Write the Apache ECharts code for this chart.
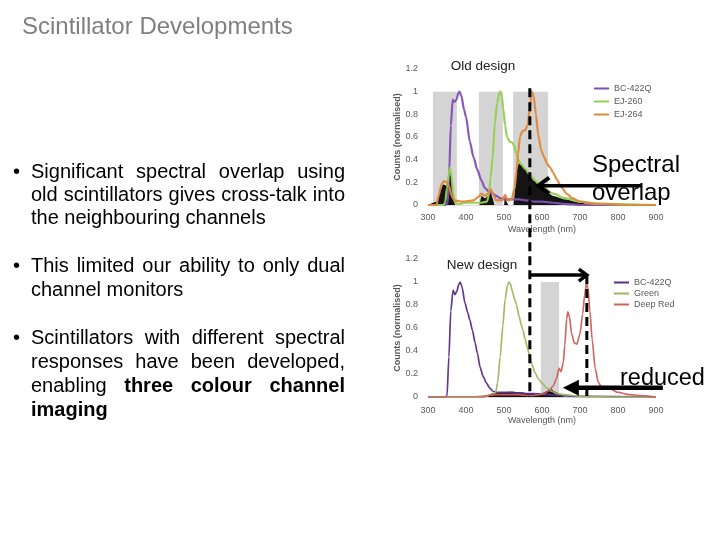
<!DOCTYPE html>
<html><head><meta charset="utf-8">
<script src="https://cdn.jsdelivr.net/npm/echarts@6/dist/echarts.min.js"></script>
<style>html,body{margin:0;padding:0;background:#fff}#c{width:720px;height:540px}</style>
</head><body><div id="c"></div>
<script>
// ---------------- DATA ----------------
const xTickMin = 300, xTickMax = 900, xTickStep = 100;
const yTickMin = 0, yTickMax = 1.2, yTickStep = 0.2;

// Old design (top chart)
const bcOldNm     = [300,345,352,356,360,365,370,375,380,383,388,395,400,410,420,430,440,450,460,470,480,490,500,520,540,560,580,600,630,660,700,900];
const bcOldCounts = [0,0,0.02,0.3,0.7,0.93,0.91,0.93,0.99,1.0,0.96,0.84,0.78,0.56,0.42,0.31,0.22,0.15,0.12,0.1,0.08,0.06,0.05,0.05,0.05,0.04,0.03,0.03,0.02,0.01,0,0];

const ej260Nm     = [300,340,345,350,355,358,362,366,371,380,400,440,455,460,465,470,476,482,487,490,494,498,503,508,515,522,527,532,537,545,555,568,580,600,630,660,700,750,900];
const ej260Counts = [0,0,0.02,0.15,0.28,0.33,0.25,0.1,0.02,0.01,0.02,0.02,0.03,0.08,0.25,0.42,0.72,0.9,0.98,1.0,0.97,0.85,0.7,0.6,0.56,0.55,0.52,0.46,0.4,0.36,0.32,0.27,0.22,0.16,0.1,0.06,0.03,0.01,0];

const ej264Nm     = [300,322,328,335,342,350,356,362,370,390,420,432,441,450,458,465,472,480,495,503,510,520,528,533,537,542,548,555,562,568,573,578,584,590,598,606,614,622,630,640,650,665,680,700,730,770,820,900];
const ej264Counts = [0,0,0.08,0.18,0.21,0.2,0.16,0.08,0.04,0.03,0.04,0.07,0.1,0.08,0.1,0.14,0.09,0.04,0.04,0.09,0.04,0.05,0.15,0.3,0.45,0.6,0.65,0.66,0.7,0.85,1.0,0.96,0.8,0.62,0.48,0.42,0.36,0.33,0.28,0.22,0.16,0.1,0.06,0.03,0.015,0.01,0,0];

const overlapOldNm     = [300,325,332,340,348,354,358,362,366,372,435,441,450,458,465,470,475,500,503,508,512,525,530,535,540,550,560,575,590,610,630,660,700,740,900];
const overlapOldCounts = [0,0.03,0.12,0.18,0.17,0.2,0.3,0.22,0.08,0,0,0.08,0.06,0.08,0.12,0.06,0,0,0.08,0.02,0,0,0.15,0.33,0.37,0.34,0.3,0.24,0.18,0.12,0.08,0.05,0.02,0,0];

const bandsOld = [[313,376],[434,497],[524,616]];

// New design (bottom chart)
const bcNewNm     = [300,345,350,355,360,366,371,376,381,385,390,397,405,410,417,424,430,437,445,454,462,471,480,500,520,550,580,620,660,700,900];
const bcNewCounts = [0,0,0.01,0.35,0.75,0.93,0.89,0.92,0.98,1.0,0.95,0.82,0.73,0.67,0.58,0.47,0.38,0.26,0.18,0.12,0.08,0.05,0.04,0.04,0.04,0.03,0.03,0.02,0.01,0.005,0];

const greenNm     = [300,420,450,470,478,483,490,497,503,509,513,517,522,528,533,540,546,550,556,562,568,575,582,590,600,612,625,640,660,690,730,780,900];
const greenCounts = [0,0,0.01,0.02,0.04,0.12,0.35,0.62,0.85,0.97,1.0,0.98,0.92,0.85,0.8,0.7,0.62,0.58,0.5,0.42,0.35,0.27,0.21,0.16,0.12,0.08,0.05,0.03,0.02,0.01,0.005,0,0];

const redNm     = [300,440,470,500,540,570,590,605,620,630,638,645,650,656,660,665,668,672,678,685,692,700,707,712,717,721,726,732,740,748,756,765,772,780,800,830,870,900];
const redCounts = [0,0,0.02,0.02,0.02,0.01,0.02,0.03,0.06,0.1,0.16,0.25,0.22,0.3,0.45,0.68,0.74,0.7,0.55,0.47,0.46,0.55,0.72,0.88,0.99,0.95,0.75,0.5,0.25,0.13,0.09,0.08,0.09,0.07,0.04,0.02,0.01,0];

const overlapNewNm     = [300,455,470,490,520,550,570,600,615,625,635,650,660,900];
const overlapNewCounts = [0,0,0.035,0.04,0.045,0.04,0.025,0.035,0.055,0.065,0.045,0.015,0,0];

const bandsNew = [[597,645]];

// Annotation positions (in data units)
const dashNm1 = 568, dashNm2 = 718;

// ---------------- CHART ----------------
const FONT = '"Liberation Sans", Arial, sans-serif';
const pairs = (xs, ys) => xs.map((x, i) => [x, ys[i]]);
const chart = echarts.init(document.getElementById('c'), null, {renderer: 'canvas'});

function curve(name, g, xs, ys, color, width) {
  return {type: 'line', name, xAxisIndex: g, yAxisIndex: g, data: pairs(xs, ys), symbol: 'none',
    smooth: 0.25, smoothMonotone: 'x', lineStyle: {color, width, opacity: 0.95}, itemStyle: {color}, z: 4, silent: true};
}
function overlap(g, xs, ys, bands) {
  return {type: 'line', xAxisIndex: g, yAxisIndex: g, data: pairs(xs, ys), symbol: 'none',
    smooth: 0.2, smoothMonotone: 'x', lineStyle: {width: 0}, areaStyle: {color: '#141414', opacity: 1}, z: 3, silent: true,
    markArea: {silent: true, itemStyle: {color: '#d4d4d4'},
      data: bands.map(b => [{xAxis: b[0], yAxis: 0}, {xAxis: b[1], yAxis: 1}])}};
}
function xAx(g, gap, margin) {
  return {type: 'value', gridIndex: g, min: xTickMin, max: xTickMax, interval: xTickStep,
    name: 'Wavelength (nm)', nameLocation: 'middle', nameGap: gap,
    nameTextStyle: {fontSize: 9, color: '#595959', fontFamily: FONT},
    axisLine: {lineStyle: {color: '#d9d9d9', width: 1}}, axisTick: {show: false}, splitLine: {show: false},
    axisLabel: {fontSize: 9, color: '#595959', margin, fontFamily: FONT}};
}
function yAx(g) {
  return {type: 'value', gridIndex: g, min: yTickMin, max: yTickMax, interval: yTickStep,
    name: 'Counts (normalised)', nameLocation: 'middle', nameGap: 25,
    nameTextStyle: {fontSize: 9, color: '#595959', fontWeight: 'bold', fontFamily: FONT},
    axisLine: {show: false}, axisTick: {show: false}, splitLine: {show: false},
    axisLabel: {fontSize: 9, color: '#595959', margin: 10, fontFamily: FONT}};
}

const option = {
  animation: false,
  backgroundColor: '#fff',
  grid: [
    {left: 428, top: 69, width: 228, height: 136},
    {left: 428, top: 259, width: 228, height: 138}
  ],
  xAxis: [xAx(0, 20, 8), xAx(1, 18, 9)],
  yAxis: [yAx(0), yAx(1)],
  legend: [
    {orient: 'vertical', left: 589, top: 79, itemWidth: 15, itemHeight: 2, itemGap: 4, icon: 'rect',
     textStyle: {fontSize: 9, color: '#595959', fontFamily: FONT},
     data: [{name: 'BC-422Q', itemStyle: {color: '#8250b4'}}, {name: 'EJ-260', itemStyle: {color: '#92d050'}}, {name: 'EJ-264', itemStyle: {color: '#e0883a'}}]},
    {orient: 'vertical', left: 609, top: 273, itemWidth: 15, itemHeight: 2, itemGap: 2, icon: 'rect',
     textStyle: {fontSize: 9, color: '#595959', fontFamily: FONT},
     data: [{name: 'BC-422Q', itemStyle: {color: '#5b2d8a'}}, {name: 'Green', itemStyle: {color: '#9bbb59'}}, {name: 'Deep Red', itemStyle: {color: '#d0605e'}}]}
  ],
  series: [
    overlap(0, overlapOldNm, overlapOldCounts, bandsOld),
    curve('BC-422Q', 0, bcOldNm, bcOldCounts, '#8250b4', 2.2),
    curve('EJ-260', 0, ej260Nm, ej260Counts, '#92d050', 2.2),
    curve('EJ-264', 0, ej264Nm, ej264Counts, '#e0883a', 2.2),
    overlap(1, overlapNewNm, overlapNewCounts, bandsNew),
    curve('BC-422Q', 1, bcNewNm, bcNewCounts, '#5b2d8a', 1.7),
    curve('Green', 1, greenNm, greenCounts, '#9bbb59', 1.7),
    curve('Deep Red', 1, redNm, redCounts, '#d0605e', 1.7)
  ]
};
chart.setOption(option);

// ---------------- TEXT & ANNOTATIONS ----------------
const ctx = document.createElement('canvas').getContext('2d');
const BODY = 20;
function measure(t, bold) { ctx.font = (bold ? 'bold ' : '') + BODY + 'px ' + FONT; return ctx.measureText(t).width; }

const paragraphs = [
  {lines: [
    {y: 172, justify: true, words: ['Significant', 'spectral', 'overlap', 'using']},
    {y: 195, justify: true, words: ['old', 'scintillators', 'gives', 'cross-talk', 'into']},
    {y: 218, justify: false, words: ['the', 'neighbouring', 'channels']}]},
  {lines: [
    {y: 266, justify: true, words: ['This', 'limited', 'our', 'ability', 'to', 'only', 'dual']},
    {y: 290, justify: false, words: ['channel', 'monitors']}]},
  {lines: [
    {y: 338, justify: true, words: ['Scintillators', 'with', 'different', 'spectral']},
    {y: 362, justify: true, words: ['responses', 'have', 'been', 'developed,']},
    {y: 386, justify: true, words: ['enabling', '*three', '*colour', '*channel']},
    {y: 410, justify: false, words: ['*imaging']}]}
];
const X0 = 31, X1 = 345;
const els = [];
els.push({type: 'text', x: 22, y: 27, z: 100, style: {text: 'Scintillator Developments', fontSize: 24, fontFamily: FONT, fill: '#7f7f7f', align: 'left', verticalAlign: 'middle'}});
paragraphs.forEach(p => {
  els.push({type: 'text', x: 13, y: p.lines[0].y, z: 100, style: {text: '•', fontSize: BODY, fontFamily: FONT, fill: '#000', align: 'left', verticalAlign: 'middle'}});
  p.lines.forEach(l => {
    const ws = l.words.map(w => ({t: w.replace('*', ''), b: w[0] === '*'}));
    const widths = ws.map(w => measure(w.t, w.b));
    const total = widths.reduce((a, b) => a + b, 0);
    const gap = (l.justify && ws.length > 1) ? (X1 - X0 - total) / (ws.length - 1) : measure(' ', false);
    let x = X0;
    ws.forEach((w, i) => {
      els.push({type: 'text', x, y: l.y, z: 100, style: {text: w.t, fontSize: BODY, fontWeight: w.b ? 'bold' : 'normal', fontFamily: FONT, fill: '#000', align: 'left', verticalAlign: 'middle'}});
      x += widths[i] + gap;
    });
  });
});

const p0 = (x, y) => chart.convertToPixel({gridIndex: 0}, [x, y]);
const p1 = (x, y) => chart.convertToPixel({gridIndex: 1}, [x, y]);

els.push({type: 'text', x: 483, y: 66, z: 100, style: {text: 'Old design', fontSize: 13.5, fontFamily: FONT, fill: '#222', align: 'center', verticalAlign: 'middle'}});
els.push({type: 'text', x: 482, y: 265, z: 100, style: {text: 'New design', fontSize: 13.5, fontFamily: FONT, fill: '#222', align: 'center', verticalAlign: 'middle'}});
els.push({type: 'text', x: 592, y: 165, z: 100, style: {text: 'Spectral', fontSize: 24, fontFamily: FONT, fill: '#000', align: 'left', verticalAlign: 'middle'}});
els.push({type: 'text', x: 592, y: 193, z: 100, style: {text: 'overlap', fontSize: 24, fontFamily: FONT, fill: '#000', align: 'left', verticalAlign: 'middle'}});
els.push({type: 'text', x: 620, y: 379, z: 100, style: {text: 'reduced', fontSize: 23.5, fontFamily: FONT, fill: '#000', align: 'left', verticalAlign: 'middle'}});

// dashed verticals
const d1t = p0(dashNm1, 1.03), d1b = p1(dashNm1, 0);
const d2t = p1(dashNm2, 1.06), d2b = p1(dashNm2, 0);
const dashStyle = {stroke: '#000', lineWidth: 3, lineDash: [9, 5]};
els.push({type: 'line', z: 100, shape: {x1: d1t[0], y1: d1t[1], x2: d1b[0], y2: d1b[1]}, style: dashStyle});
els.push({type: 'line', z: 100, shape: {x1: d2t[0], y1: d2t[1], x2: d2b[0], y2: d2b[1]}, style: dashStyle});
// horizontal arrow between dashed lines
const ha = p1(dashNm1, 1.06), hb = p1(dashNm2, 1.06);
els.push({type: 'line', z: 100, shape: {x1: ha[0], y1: ha[1], x2: hb[0] - 1, y2: hb[1]}, style: {stroke: '#000', lineWidth: 3.5}});
els.push({type: 'polyline', z: 100, shape: {points: [[hb[0] - 8, hb[1] - 6], [hb[0], hb[1]], [hb[0] - 8, hb[1] + 6]]}, style: {stroke: '#000', lineWidth: 3.5, fill: null}});
// spectral overlap arrow
const sa = p0(590, 0.17), sb = p0(863, 0.17);
els.push({type: 'line', z: 100, shape: {x1: sa[0] + 2, y1: sa[1], x2: sb[0], y2: sb[1]}, style: {stroke: '#000', lineWidth: 3.5}});
els.push({type: 'polyline', z: 100, shape: {points: [[sa[0] + 11, sa[1] - 8], [sa[0], sa[1]], [sa[0] + 11, sa[1] + 8]]}, style: {stroke: '#000', lineWidth: 4, fill: null}});
// reduced arrow
const ra = p1(655, 0.08), rb = p1(918, 0.08);
els.push({type: 'line', z: 100, shape: {x1: ra[0] + 12, y1: ra[1], x2: rb[0], y2: rb[1]}, style: {stroke: '#000', lineWidth: 4.5}});
els.push({type: 'polygon', z: 100, shape: {points: [[ra[0], ra[1]], [ra[0] + 16, ra[1] - 8], [ra[0] + 16, ra[1] + 8]]}, style: {fill: '#000'}});

chart.setOption({graphic: {elements: els}});
</script>
</body></html>
